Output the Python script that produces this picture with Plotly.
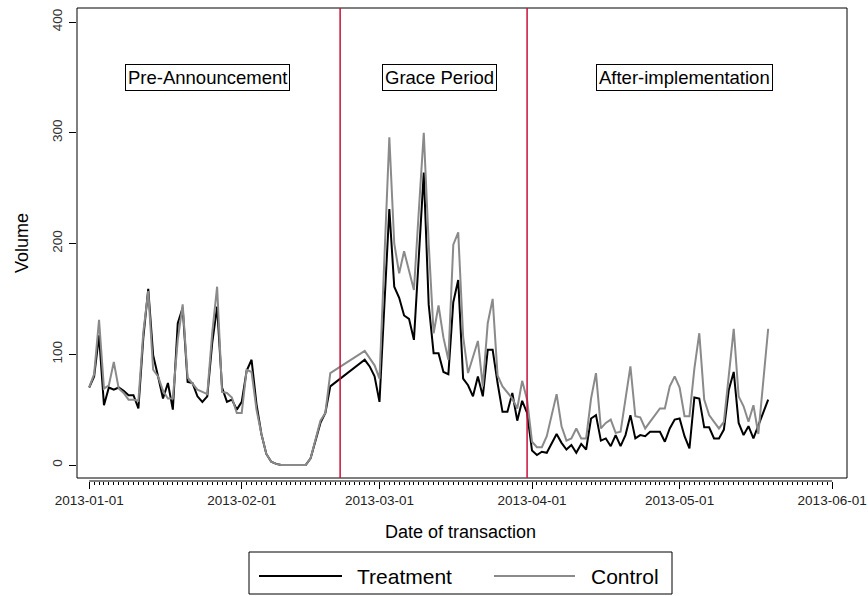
import plotly.graph_objects as go
import pandas as pd

# ---------------- data ----------------
dates = pd.date_range("2013-01-01", "2013-05-19", freq="D")

treatment = [
    70, 80, 117, 54, 70, 68, 70, 67, 63, 63,
    51, 115, 159, 99, 80, 60, 74, 50, 128, 142,
    75, 74, 62, 57, 62, 110, 143, 70, 57, 59,
    50, 57, 85, 95, 55, 28, 10, 3, 1, 0,
    0, 0, 0, 0, 0, 6, 22, 38, 47, 71,
    None, None, None, None, None, None, 95, 89, 80, 57,
    145, 231, 161, 151, 135, 132, 113, 190, 264, 145,
    101, 101, 84, 82, 147, 167, 78, 72, 62, 80,
    62, 104, 104, 74, 48, 48, 65, 40, 58, 47,
    13, 9, 12, 11, 20, 28, 20, 14, 18, 11,
    19, 14, 42, 45, 22, 24, 17, 27, 17, 27,
    45, 24, 27, 26, 30, 30, 30, 21, 33, 41,
    42, 26, 15, 61, 60, 34, 34, 24, 24, 32,
    68, 84, 38, 27, 35, 24, 36, 47, 59,
]

control = [
    70, 82, 131, 69, 72, 93, 69, 65, 59, 59,
    58, 120, 157, 86, 80, 67, 60, 60, 113, 145,
    79, 74, 68, 66, 64, 119, 161, 66, 65, 61,
    47, 47, 86, 84, 50, 28, 10, 3, 1, 0,
    0, 0, 0, 0, 0, 6, 23, 40, 47, 83,
    None, None, None, None, None, None, 103, 97, 90, 78,
    190, 296, 200, 173, 193, 175, 158, 230, 300, 200,
    119, 144, 115, 95, 199, 210, 116, 83, 98, 112,
    71, 128, 150, 81, 71, 66, 60, 51, 76, 59,
    21, 16, 16, 26, 45, 64, 35, 22, 24, 33,
    24, 24, 60, 83, 33, 38, 41, 29, 30, 59,
    89, 44, 43, 33, 39, 44, 51, 51, 71, 80,
    70, 44, 44, 87, 119, 59, 45, 39, 33, 39,
    83, 123, 62, 53, 39, 54, 28, 75, 123,
]

event_dates = ["2013-02-21", "2013-03-31"]
period_labels = ["Pre-Announcement", "Grace Period", "After-implementation"]
month_ticks = ["2013-01-01", "2013-02-01", "2013-03-01", "2013-04-01", "2013-05-01", "2013-06-01"]
y_ticks = [0, 100, 200, 300, 400]
series_names = ["Treatment", "Control"]

# ---------------- layout helpers ----------------
W, H = 868, 596
L, R, T, B = 77, 21, 8, 115
PW, PH = W - L - R, H - T - B


def px_x(p):
    return (p - L) / PW


def px_y(p):
    return (H - B - p) / PH


FONT = "Liberation Sans, Arial, sans-serif"
RED = "#C8103A"
GRAY = "#8a8a8a"

fig = go.Figure()
fig.add_trace(go.Scatter(x=dates, y=treatment, mode="lines", name=series_names[0],
                         line=dict(color="black", width=2), connectgaps=True))
fig.add_trace(go.Scatter(x=dates, y=control, mode="lines", name=series_names[1],
                         line=dict(color=GRAY, width=2), connectgaps=True))

daily = pd.date_range(month_ticks[0], month_ticks[-1], freq="D")

fig.update_layout(
    width=W, height=H,
    margin=dict(l=L, r=R, t=T, b=B, pad=0, autoexpand=False),
    paper_bgcolor="white", plot_bgcolor="white",
    showlegend=False,
    font=dict(family=FONT, color="black"),
    xaxis=dict(
        type="date", automargin=False,
        range=["2012-12-29 12:30", "2013-06-04 00:30"],
        showgrid=False, zeroline=False, showline=False,
        tickmode="array", tickvals=month_ticks, ticktext=month_ticks,
        ticks="outside", ticklen=7, tickwidth=1, tickcolor="black",
        tickfont=dict(size=13.5, color="#222", family=FONT),
        minor=dict(tickmode="array", tickvals=list(daily), ticks="outside",
                   ticklen=3, tickwidth=1, tickcolor="black", showgrid=False),
    ),
    yaxis=dict(
        automargin=False,
        range=[-14.45, 412.64],
        showgrid=False, zeroline=False, showline=False,
        tickmode="array", tickvals=y_ticks,
        ticks="outside", ticklen=7, tickwidth=1, tickcolor="black",
        tickangle=-90, ticklabelstandoff=2,
        tickfont=dict(size=13.5, color="#333", family=FONT),
    ),
)

shapes = []
# plot box
shapes.append(dict(type="rect", xref="paper", yref="paper", x0=0, x1=1,
                   y0=px_y(478), y1=1, line=dict(color="black", width=1)))
# x axis line (Jan 1 .. Jun 1)
shapes.append(dict(type="line", xref="x", yref="paper", x0=month_ticks[0], x1=month_ticks[-1],
                   y0=0, y1=0, line=dict(color="black", width=1)))
# event lines
for d in event_dates:
    shapes.append(dict(type="line", xref="x", yref="paper", x0=d, x1=d,
                       y0=px_y(478), y1=1, line=dict(color=RED, width=1.5)))
# legend box & keys
shapes.append(dict(type="rect", xref="paper", yref="paper", x0=px_x(249), x1=px_x(672),
                   y0=px_y(594), y1=px_y(552), line=dict(color="black", width=1)))
shapes.append(dict(type="line", xref="paper", yref="paper", x0=px_x(259), x1=px_x(342),
                   y0=px_y(576), y1=px_y(576), line=dict(color="black", width=2)))
shapes.append(dict(type="line", xref="paper", yref="paper", x0=px_x(494), x1=px_x(575),
                   y0=px_y(576), y1=px_y(576), line=dict(color=GRAY, width=2)))
fig.update_layout(shapes=shapes)

ann = []
ann.append(dict(text="Volume", xref="paper", yref="paper", x=px_x(22), y=px_y(243),
                xanchor="center", yanchor="middle",
                textangle=-90, showarrow=False, font=dict(size=18, family=FONT)))
ann.append(dict(text="Date of transaction", xref="paper", yref="paper", x=px_x(460), y=px_y(532),
                xanchor="center", yanchor="middle",
                showarrow=False, font=dict(size=18, family=FONT)))
for lab, cx in zip(period_labels, [207, 439, 684]):
    ann.append(dict(text=lab, xref="paper", yref="paper", x=px_x(cx), y=px_y(77),
                    xanchor="center", yanchor="middle",
                    showarrow=False, font=dict(size=18.5, family=FONT),
                    bordercolor="black", borderwidth=1, borderpad=2, bgcolor="white"))
ann.append(dict(text=series_names[0], xref="paper", yref="paper", x=px_x(355), y=px_y(576),
                xanchor="left", yanchor="middle", showarrow=False, font=dict(size=21, family=FONT)))
ann.append(dict(text=series_names[1], xref="paper", yref="paper", x=px_x(589), y=px_y(576),
                xanchor="left", yanchor="middle", showarrow=False, font=dict(size=21, family=FONT)))
fig.update_layout(annotations=ann)

fig.write_html("out.html")
